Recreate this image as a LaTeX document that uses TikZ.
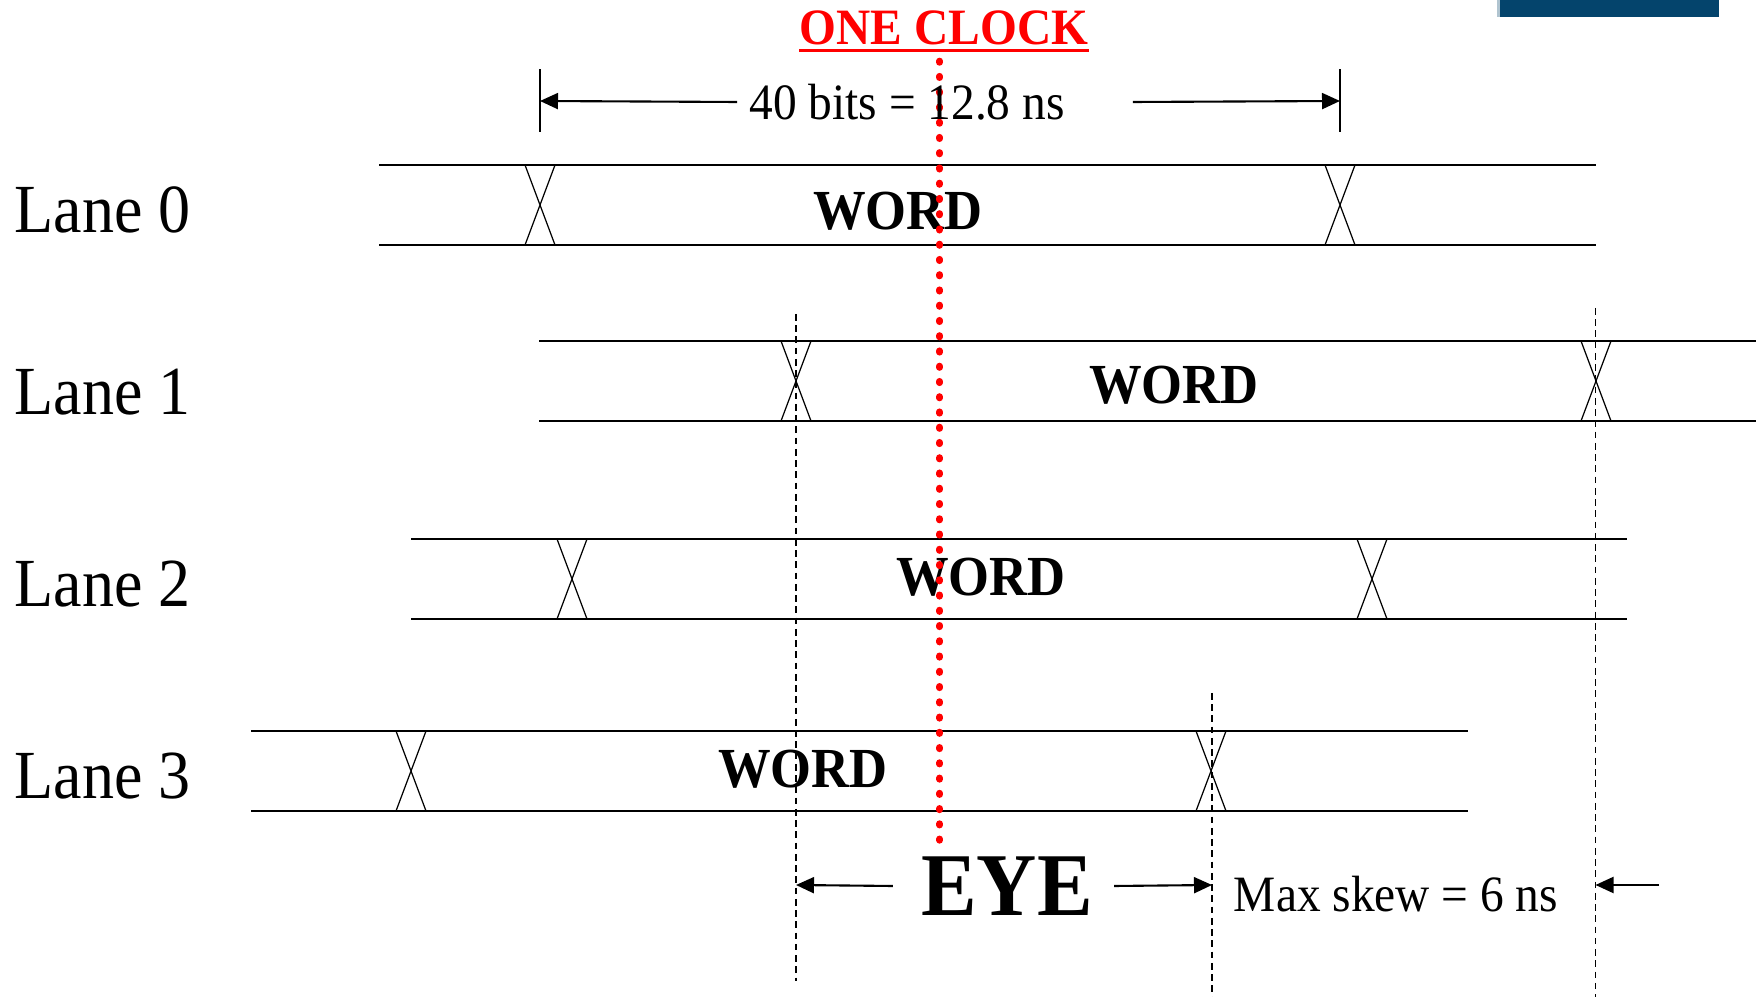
\documentclass[tikz,border=0pt]{standalone}
\usepackage{fontspec}
\setmainfont{Liberation Serif}[FakeStretch=0.93]
\usetikzlibrary{arrows.meta,positioning}
\definecolor{barblue}{RGB}{4,68,108}
\definecolor{baredge}{RGB}{176,196,208}

\begin{document}
\begin{tikzpicture}[x=1mm,y=-1mm,
  lane/.style={line width=0.5pt},
  cross/.style={line width=0.35pt},
  guide/.style={line width=0.35pt,dash pattern=on 1.9pt off 1.3pt},
  dim/.style={line width=0.6pt,-{Triangle[length=1.8mm,width=1.6mm]}},
  word/.style={font=\fontsize{16.1}{18}\selectfont\bfseries},
  small/.style={font=\fontsize{14.5}{16}\selectfont}]
  \useasboundingbox (0,0) rectangle (175.8,99.7);

  % bar in the top corner
  \fill[barblue] (149.7,0) rectangle (171.9,1.7);
  \fill[baredge] (149.7,0) rectangle (150.0,1.7);

  % lanes: number/top edge/line start/first crossing/line end/word x/word y/label y
  \foreach \n/\t/\s/\c/\e/\w/\v/\l in {0/16.5/37.9/54.0/159.6/89.8/21.1/21.0,
                                       1/34.1/53.9/79.6/175.6/117.4/38.5/39.2,
                                       2/53.9/41.1/57.2/162.7/98.1/57.7/58.4,
                                       3/73.1/25.1/41.1/146.8/80.3/76.9/77.6} {
    \draw[lane] (\s,\t) -- (\e,\t) (\s,\t+8) -- (\e,\t+8);
    \foreach \x in {\c, \c+80} {
      \draw[cross] (\x-1.5,\t) -- (\x+1.5,\t+8) (\x+1.5,\t) -- (\x-1.5,\t+8);
    }
    \node[word] (word\n) at (\w,\v) {WORD};
    \node[font=\fontsize{19.6}{22}\selectfont] (lane\n) at (10.25,\l) {Lane \n};
  }

  % dashed guides at the crossings
  \draw[guide] (79.6,31.4) -- (79.6,98.1);
  \draw[guide] (121.2,69.3) -- (121.2,99.7);
  \draw[guide] (159.55,30.8) -- (159.55,99.7);

  % clock edge
  \node[red, inner sep=0pt, font=\fontsize{14.5}{16}\selectfont\bfseries] (clock) at (94.4,2.8) {ONE CLOCK};
  \draw[red, line width=0.8pt] ([yshift=-1.3pt]clock.south west) -- ([yshift=-1.3pt]clock.south east);
  \draw[red, line width=1.9pt, line cap=round, dash pattern=on 0.4pt off 3.94pt] (93.96,6.1) -- (93.96,84.3);

  % word period
  \coordinate (perL) at (54.0,10.1);
  \coordinate (perR) at (134.0,10.1);
  \draw[line width=0.35pt] (54.0,6.95) -- (54.0,13.2) (134.0,6.95) -- (134.0,13.2);
  \node[small] (period) at (90.7,10.2) {40 bits = 12.8 ns};
  \draw[dim] (period.west) -- (perL);
  \draw[dim] ([xshift=5.6mm]period.east) -- (perR);

  % eye and skew
  \coordinate (eyeL) at (79.6,88.5);
  \coordinate (eyeR) at (121.2,88.5);
  \coordinate (skewR) at (159.55,88.5);
  \coordinate (skewT) at (165.9,88.5);
  \node[font=\fontsize{25.5}{28}\selectfont\bfseries] (eye) at (100.7,88.6) {EYE};
  \draw[dim] ([xshift=-1.6mm]eye.west) -- (eyeL);
  \draw[dim] ([xshift=0.9mm]eye.east) -- (eyeR);
  \node[small] (skew) at (139.6,89.4) {Max skew = 6 ns};
  \draw[dim] (skewT) -- (skewR);
\end{tikzpicture}
\end{document}
